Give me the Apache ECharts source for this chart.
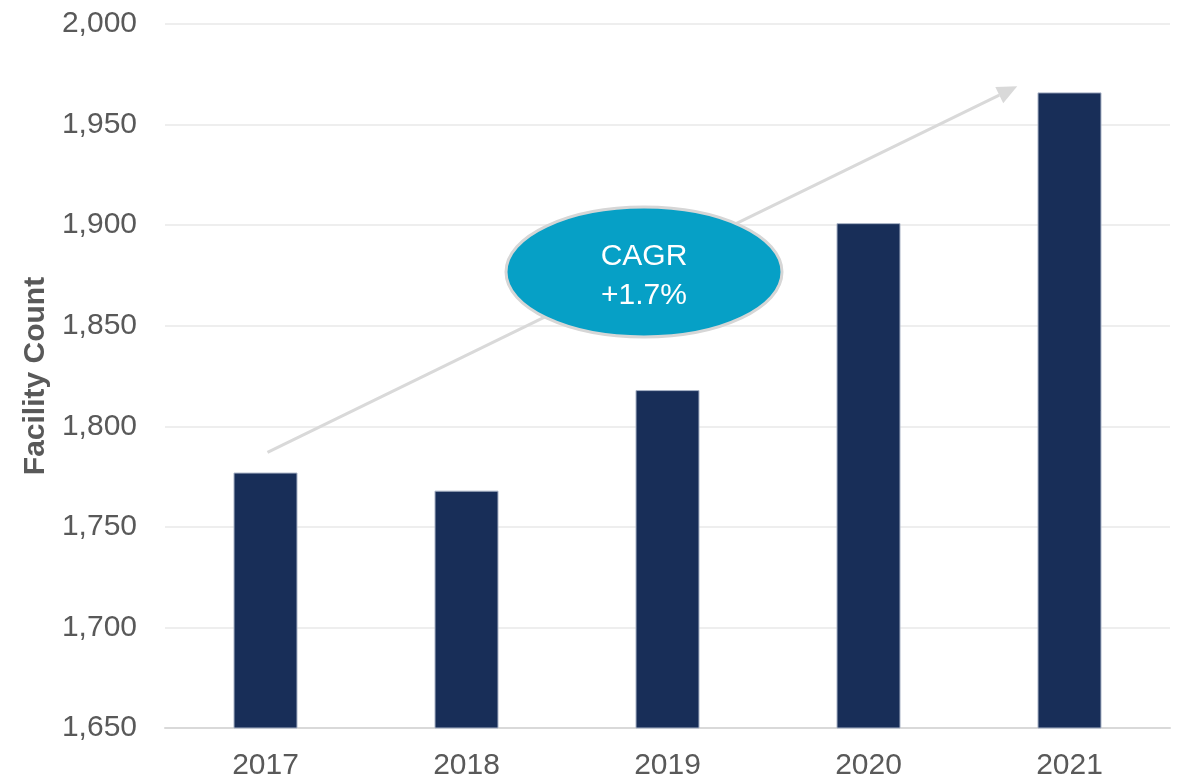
<!DOCTYPE html>
<html>
<head>
<meta charset="utf-8">
<script src="https://cdn.jsdelivr.net/npm/echarts@6/dist/echarts.min.js"></script>
<style>
  html, body { margin: 0; padding: 0; background: #fff; }
  #chart { width: 1187px; height: 780px; }
</style>
</head>
<body>
<div id="chart"></div>
<script>
const years = ['2017', '2018', '2019', '2020', '2021'];
const facilityCount = [1777, 1768, 1818, 1901, 1966];
const cagrText = ['CAGR', '+1.7%'];

const chart = echarts.init(document.getElementById('chart'));

chart.setOption({
  animation: false,
  grid: { left: 165, right: 17, top: 24, bottom: 52, outerBoundsMode: 'none' },
  xAxis: {
    type: 'category',
    data: years,
    axisLine: { show: true, lineStyle: { color: '#d9d9d9', width: 2 } },
    axisTick: { show: false },
    axisLabel: { color: '#595959', fontSize: 30, fontFamily: 'Liberation Sans', margin: 23 }
  },
  yAxis: {
    type: 'value',
    min: 1650,
    max: 2000,
    interval: 50,
    name: 'Facility Count',
    nameLocation: 'middle',
    nameGap: 114,
    nameTextStyle: { color: '#595959', fontSize: 30, fontWeight: 'bold', fontFamily: 'Liberation Sans' },
    axisLine: { show: false },
    axisTick: { show: false },
    splitLine: { lineStyle: { color: '#eeeeee', width: 2 } },
    axisLabel: {
      color: '#595959', fontSize: 30, fontFamily: 'Liberation Sans', margin: 28,
      formatter: v => v.toLocaleString('en-US')
    }
  },
  series: [{
    type: 'bar',
    data: facilityCount,
    barWidth: 64,
    itemStyle: { color: '#182e58', borderColor: '#a9b3c6', borderWidth: 1 }
  }]
});

// trend arrow and CAGR bubble, anchored to data positions
const p0 = chart.convertToPixel({ seriesIndex: 0 }, [0, 1787]);
const p1 = chart.convertToPixel({ seriesIndex: 0 }, [3, 1969]);
const p2 = chart.convertToPixel({ seriesIndex: 0 }, [4, 1969]);
p0[0] += 2;
const tipX = p1[0] + (p2[0] - p1[0]) * 0.74;
const tip = [tipX, p1[1]];
const ang = Math.atan2(tip[1] - p0[1], tip[0] - p0[0]);
const headLen = 20, headW = 9;
const base = [tip[0] - headLen * Math.cos(ang), tip[1] - headLen * Math.sin(ang)];
const nx = -Math.sin(ang), ny = Math.cos(ang);

chart.setOption({
  graphic: [
    {
      type: 'line',
      shape: { x1: p0[0], y1: p0[1], x2: base[0], y2: base[1] },
      style: { stroke: '#d9d9d9', lineWidth: 3 },
      z: 10
    },
    {
      type: 'polygon',
      shape: { points: [tip, [base[0] + nx * headW, base[1] + ny * headW], [base[0] - nx * headW, base[1] - ny * headW]] },
      style: { fill: '#d9d9d9' },
      z: 10
    },
    {
      type: 'ellipse',
      shape: { cx: 644, cy: 272, rx: 138, ry: 65 },
      style: { fill: '#06a0c6', stroke: '#d6d6d6', lineWidth: 3 },
      z: 11
    },
    {
      type: 'text',
      x: 644, y: 276,
      style: {
        text: cagrText.join('\n'),
        fill: '#ffffff', fontSize: 30, fontFamily: 'Liberation Sans',
        align: 'center', verticalAlign: 'middle', lineHeight: 39
      },
      z: 12
    }
  ]
});
</script>
</body>
</html>
